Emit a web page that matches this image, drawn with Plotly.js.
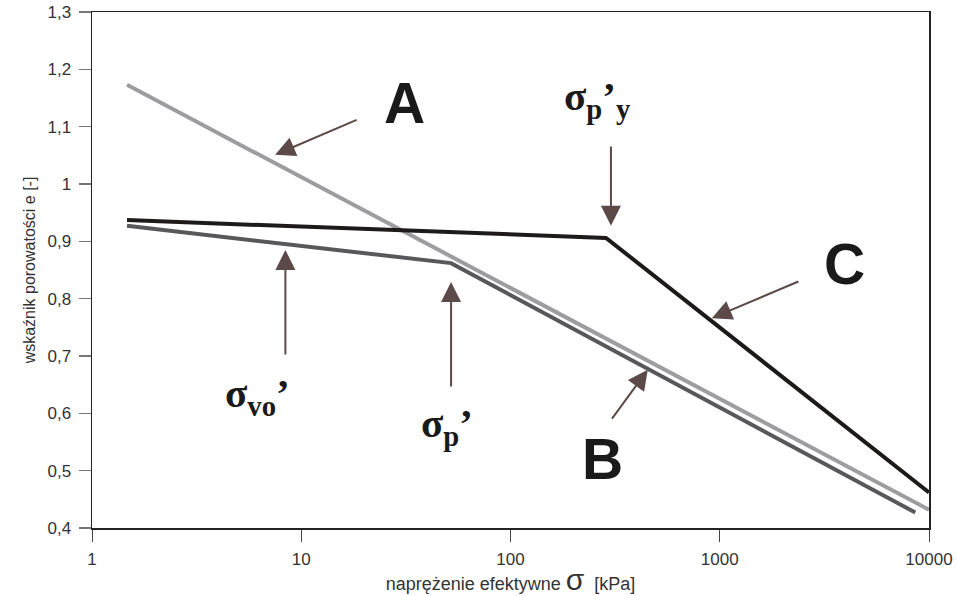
<!DOCTYPE html>
<html><head><meta charset="utf-8">
<script src="https://cdn.plot.ly/plotly-3.0.1.min.js"></script>
<style>html,body{margin:0;padding:0;background:#fff}#chart{width:957px;height:596px}</style>
</head><body><div id="chart"></div>
<script>
// Series A (light grey)
const xA = [1.47, 10000];
const yA = [1.173, 0.432];
// Series B (dark grey)
const xB = [1.47, 52, 8600];
const yB = [0.927, 0.862, 0.427];
// Series C (black)
const xC = [1.47, 286, 10000];
const yC = [0.937, 0.906, 0.462];

const xTickVals = [1, 10, 100, 1000, 10000];
const xTickText = ['1', '10', '100', '1000', '10000'];
const yTickVals = [0.4, 0.5, 0.6, 0.7, 0.8, 0.9, 1.0, 1.1, 1.2, 1.3];
const yTickText = ['0,4', '0,5', '0,6', '0,7', '0,8', '0,9', '1', '1,1', '1,2', '1,3'];

const arrowColor = '#5b4a47';
const traces = [
  {x: xA, y: yA, mode: 'lines', line: {color: '#9d9d9f', width: 4}, hoverinfo: 'skip'},
  {x: xB, y: yB, mode: 'lines', line: {color: '#58585a', width: 4}, hoverinfo: 'skip'},
  {x: xC, y: yC, mode: 'lines', line: {color: '#1d1a1a', width: 4}, hoverinfo: 'skip'}
];

function arrow(hx, hy, tx, ty) {
  return {x: Math.log10(hx), y: hy, ax: Math.log10(tx), ay: ty, xref: 'x', yref: 'y', axref: 'x', ayref: 'y',
    text: '', showarrow: true, arrowhead: 2, arrowsize: 2, arrowwidth: 2, arrowcolor: arrowColor, standoff: 0};
}
function label(x, y, text, font) {
  return {x: Math.log10(x), y: y, xref: 'x', yref: 'y', text: text, showarrow: false, font: font, xanchor: 'center', yanchor: 'middle'};
}
const bigFont = {family: 'Liberation Sans, Arial, sans-serif', size: 57, color: '#1a1a1a', weight: 'bold'};
const sigFont = {family: 'Liberation Serif, Times New Roman, serif', size: 41, color: '#1a1a1a', weight: 'bold'};

const annotations = [
  arrow(7.5, 1.051, 18.7, 1.113),
  arrow(453, 0.676, 302, 0.588),
  arrow(916, 0.766, 2415, 0.831),
  arrow(302, 0.927, 302, 1.068),
  arrow(8.4, 0.885, 8.4, 0.700),
  arrow(52, 0.829, 52, 0.644),
  label(31.3, 1.142, '<b>A</b>', bigFont),
  label(276, 0.52, '<b>B</b>', bigFont),
  label(3960, 0.86, '<b>C</b>', bigFont),
  label(260, 1.149, '<b>σ<sub>p</sub>’<sub>y</sub></b>', sigFont),
  label(6.2, 0.631, '<b>σ<sub>vo</sub>’</b>', sigFont),
  label(49.5, 0.578, '<b>σ<sub>p</sub>’</b>', sigFont)
];

const layout = {
  width: 957, height: 596,
  margin: {l: 92, r: 28, t: 12, b: 68},
  paper_bgcolor: '#fff', plot_bgcolor: '#fff',
  showlegend: false,
  font: {family: 'Liberation Sans, Arial, sans-serif', color: '#333'},
  xaxis: {
    type: 'log', range: [0, 4],
    tickvals: xTickVals, ticktext: xTickText,
    ticks: 'outside', ticklen: 12, tickcolor: '#444', tickwidth: 1,
    ticklabelstandoff: 3,
    showline: true, linecolor: '#222', linewidth: 1.5, mirror: true,
    showgrid: false, zeroline: false,
    tickfont: {size: 17, color: '#333'},
    title: {text: 'naprężenie efektywne <span style="font-size:30px">σ</span>  [kPa]', font: {size: 18, color: '#333'}, standoff: 6}
  },
  yaxis: {
    range: [0.4, 1.3],
    tickvals: yTickVals, ticktext: yTickText,
    ticks: 'outside', ticklen: 12, tickcolor: '#777', tickwidth: 1.5,
    ticklabelstandoff: 4,
    showline: true, linecolor: '#222', linewidth: 1.5, mirror: true,
    showgrid: false, zeroline: false,
    tickfont: {size: 17, color: '#333'},
    title: {text: 'wskaźnik porowatości e [-]', font: {size: 16, color: '#333'}, standoff: 8}
  },
  annotations: annotations
};

Plotly.newPlot('chart', traces, layout, {staticPlot: true, displayModeBar: false});
</script>
</body></html>
